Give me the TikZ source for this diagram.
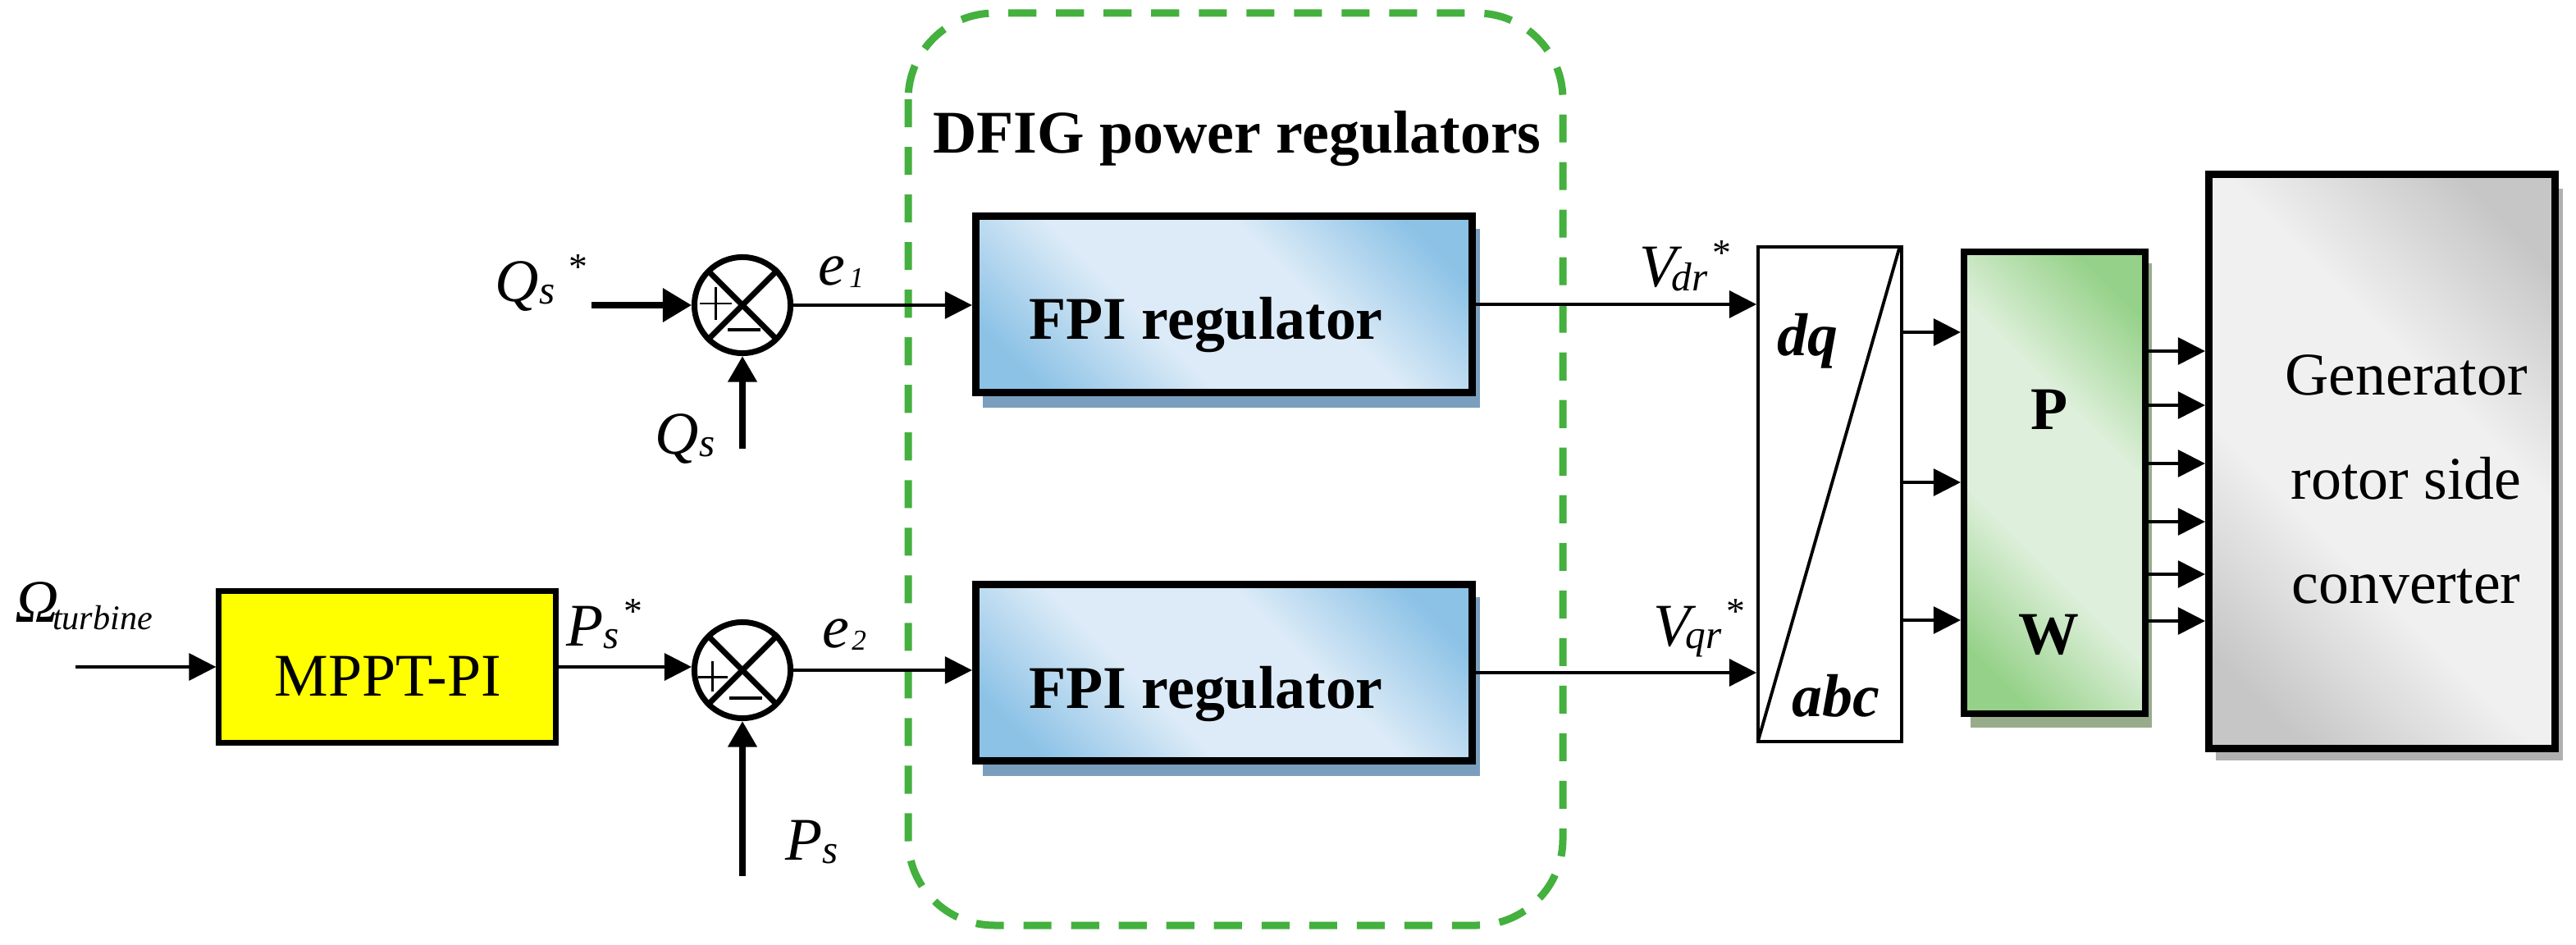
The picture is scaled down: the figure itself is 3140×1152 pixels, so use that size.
\documentclass[tikz,border=0pt]{standalone}
\usepackage{fontspec}
\setmainfont{Liberation Serif}
\usetikzlibrary{arrows.meta,backgrounds}

\definecolor{grpgreen}{HTML}{44B03E}
\definecolor{fpidark}{HTML}{8CC2E6}
\definecolor{fpilight}{HTML}{DCEBF7}
\definecolor{pwdark}{HTML}{95D188}
\definecolor{pwlight}{HTML}{DEF0DB}
\definecolor{gendark}{HTML}{C6C6C6}
\definecolor{genlight}{HTML}{F0F0F0}
\definecolor{fpishadow}{HTML}{7A9FBE}
\definecolor{pwshadow}{HTML}{98AC8C}
\definecolor{genshadow}{HTML}{B0B0B0}
\definecolor{mpptyellow}{HTML}{FFFF00}

\pgfdeclareverticalshading{fpishade}{100bp}{color(0bp)=(fpidark); color(22bp)=(fpidark); color(40bp)=(fpilight); color(60bp)=(fpilight); color(78bp)=(fpidark); color(100bp)=(fpidark)}
\pgfdeclareverticalshading{pwshade}{100bp}{color(0bp)=(pwdark); color(22bp)=(pwdark); color(40bp)=(pwlight); color(60bp)=(pwlight); color(78bp)=(pwdark); color(100bp)=(pwdark)}
\pgfdeclareverticalshading{genshade}{100bp}{color(0bp)=(gendark); color(22bp)=(gendark); color(40bp)=(genlight); color(60bp)=(genlight); color(78bp)=(gendark); color(100bp)=(gendark)}

\newcommand{\bigf}{\fontsize{21}{25}\selectfont}
\newcommand{\subf}{\fontsize{14}{16}\selectfont}
\newcommand{\tinyf}{\fontsize{10}{12}\selectfont}
\newcommand{\starf}{\fontsize{13}{15}\selectfont}
\newcommand{\omsub}{\fontsize{12}{14}\selectfont}
\newcommand{\sstar}{\raisebox{0.26cm}{\starf\upshape *}}

\tikzset{
  arr/.style={line width=0.9pt,-{Triangle[length=9.4pt,width=9.4pt]}},
  qarr/.style={line width=2pt,-{Triangle[length=10pt,width=11.4pt]}},
  varr/.style={line width=2.1pt,-{Triangle[length=9pt,width=9.7pt]}},
  lbl/.style={font=\bigf\itshape,inner sep=0pt,anchor=base west},
  btxt/.style={font=\bigf\bfseries,inner sep=0pt,anchor=base},
  rtxt/.style={font=\bigf,inner sep=0pt,anchor=base},
  sumnode/.style={circle,draw,line width=2pt,fill=white,minimum size=1.17cm,inner sep=0pt},
  fpibox/.style={draw,line width=2.56pt,minimum width=6.05cm,minimum height=2.15cm,shade,shading=fpishade,shading angle=-45},
  grp/.style={draw=grpgreen,line width=2.56pt,dash pattern=on 9.7pt off 6.8pt,rounded corners=1.05cm}
}

\begin{document}
\begin{tikzpicture}[x=0.01cm,y=-0.01cm]
\useasboundingbox (0,0) rectangle (3140,1152);

% group frame
\draw[grp] (1107,16) rectangle (1905,1128);
\node[btxt] (title) at (1508,187) {DFIG power regulators};

% blocks
\node[fpibox] (fpi1) at (1492,371) {};
\node[fpibox] (fpi2) at (1492,820) {};
\node[draw,line width=2pt,fill=mpptyellow,minimum width=4.10cm,minimum height=1.84cm] (mppt) at (472,813) {};
\node[draw,line width=1.1pt,fill=white,minimum width=1.75cm,minimum height=6.03cm] (dq) at (2230.5,602.5) {};
\node[draw,line width=2.3pt,shade,shading=pwshade,shading angle=-45,minimum width=2.21cm,minimum height=5.63cm] (pw) at (2504.5,588.5) {};
\node[draw,line width=2.56pt,shade,shading=genshade,shading angle=-45,minimum width=4.22cm,minimum height=7.00cm] (gen) at (2903.5,562.5) {};

% shadows
\begin{scope}[on background layer]
\fill[fpishadow] ([xshift=0.13cm,yshift=-0.2cm]fpi1.north west) rectangle ([xshift=0.05cm,yshift=-0.14cm]fpi1.south east);
\fill[fpishadow] ([xshift=0.13cm,yshift=-0.2cm]fpi2.north west) rectangle ([xshift=0.05cm,yshift=-0.14cm]fpi2.south east);
\fill[pwshadow] ([xshift=0.12cm,yshift=-0.18cm]pw.north west) rectangle ([xshift=0.04cm,yshift=-0.13cm]pw.south east);
\fill[genshadow] ([xshift=0.13cm,yshift=-0.22cm]gen.north west) rectangle ([xshift=0.05cm,yshift=-0.1cm]gen.south east);
\end{scope}

% dq/abc diagonal
\draw[line width=1.1pt] ([xshift=-0.05cm,yshift=-0.04cm]dq.north east) -- ([xshift=0.02cm,yshift=0.03cm]dq.south west);

% summing junctions
\node[sumnode] (s1) at (905,372) {};
\node[sumnode] (s2) at (905,817) {};
\draw[line width=2pt,shorten <=1pt,shorten >=1pt] (s1.45) -- (s1.225) (s1.135) -- (s1.315);
\draw[line width=2pt,shorten <=1pt,shorten >=1pt] (s2.45) -- (s2.225) (s2.135) -- (s2.315);
\draw[line width=0.85pt] ([shift={(-52,-2)}]s1.center) -- ([shift={(-13,-2)}]s1.center)
      ([shift={(-33,-22)}]s1.center) -- ([shift={(-33,18)}]s1.center);
\draw[line width=1.4pt] ([shift={(-18,30)}]s1.center) -- ([shift={(22,30)}]s1.center);
\draw[line width=0.85pt] ([shift={(-54,8)}]s2.center) -- ([shift={(-18,8)}]s2.center)
      ([shift={(-37,-11)}]s2.center) -- ([shift={(-37,26)}]s2.center);
\draw[line width=1.4pt] ([shift={(-16,34)}]s2.center) -- ([shift={(24,34)}]s2.center);

% block texts
\node[btxt] (t1) at (1470,413) {FPI regulator};
\node[btxt] (t2) at (1470,863) {FPI regulator};
\node[rtxt] (tm) at (473,848) {MPPT-PI};
\node[btxt,font=\bigf\bfseries\itshape] (tdq) at (2203,433) {dq};
\node[btxt,font=\bigf\bfseries\itshape] (tabc) at (2238,873) {abc};
\node[btxt] (tp) at (2498,523) {P};
\node[btxt] (tw) at (2497,797) {W};
\node[rtxt] (g1) at (2933,481) {Generator};
\node[rtxt] (g2) at (2933,608) {rotor side};
\node[rtxt] (g3) at (2933,735) {converter};

% connectors
\coordinate (qsin) at (721,372);
\coordinate (qsfb) at (905,547);
\coordinate (omin) at (92,813);
\coordinate (psfb) at (905,1068);
\draw[qarr] (qsin) -- (s1);
\draw[varr] (qsfb) -- (s1);
\draw[arr] (s1) -- (s1 -| fpi1.west);
\draw[arr] (fpi1.east) -- (fpi1.east -| dq.west);
\draw[arr] (omin) -- (mppt);
\draw[arr] (mppt) -- (mppt -| s2.west);
\draw[varr] (psfb) -- (s2);
\draw[arr] (s2) -- (s2 -| fpi2.west);
\draw[arr] (fpi2.east) -- (fpi2.east -| dq.west);
\foreach \yy in {405,588,756} \draw[arr] (dq.east |- 0,\yy) -- (pw.west |- 0,\yy);
\foreach \yy in {428,494,565,636,700,757} \draw[arr] (pw.east |- 0,\yy) -- (gen.west |- 0,\yy);

% signal labels
\node[lbl] (lqsref) at (603,367) {Q\raisebox{-0.03cm}{\subf s}\hspace{0.17cm}\sstar};
\node[lbl] (lqs) at (798,553) {Q\raisebox{-0.03cm}{\subf s}};
\node[lbl] (le1) at (997,348) {e\hspace{0.05cm}\raisebox{-0.02cm}{\tinyf 1}};
\node[lbl] (le2) at (1002,789) {e\hspace{0.03cm}\raisebox{-0.03cm}{\tinyf 2}};
\node[lbl] (lpsref) at (690,787) {P\raisebox{-0.03cm}{\subf s}\hspace{0.06cm}\sstar};
\node[lbl] (lps) at (957,1048) {P\raisebox{-0.04cm}{\subf s}};
\node[lbl] (lom) at (18,758) {Ω\hspace{-0.08cm}\raisebox{-0.09cm}{\omsub turbine}};
\node[lbl] (lvd) at (1998,350) {V\hspace{-0.06cm}\raisebox{-0.05cm}{\subf dr}\hspace{0.06cm}\sstar};
\node[lbl] (lvq) at (2015,787) {V\hspace{-0.06cm}\raisebox{-0.03cm}{\subf qr}\hspace{0.06cm}\sstar};
\end{tikzpicture}
\end{document}
